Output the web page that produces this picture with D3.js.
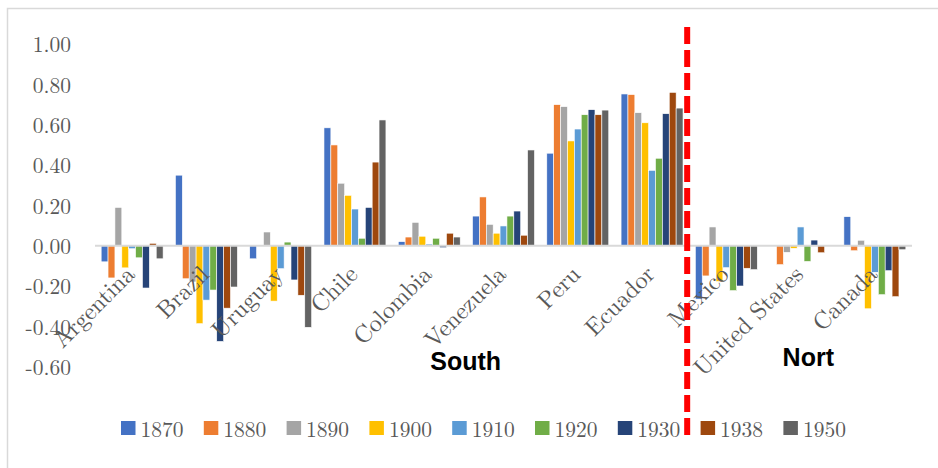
<!DOCTYPE html>
<html>
<head>
<meta charset="utf-8">
<script src="https://cdn.jsdelivr.net/npm/d3@7"></script>
<style>
  body { margin: 0; background: #fff; }
  svg { display: block; }
</style>
</head>
<body>
<div id="chart"></div>
<script>
// Data
const countries = ["Argentina", "Brazil", "Uruguay", "Chile", "Colombia", "Venezuela",
    "Peru", "Ecuador", "Mexico", "United States", "Canada"];
const years = ["1870", "1880", "1890", "1900", "1910", "1920", "1930", "1938", "1950"];
const colors = ["#4472C4", "#ED7D31", "#A5A5A5", "#FFC000", "#5B9BD5", "#70AD47", "#264478", "#9E480E", "#636363"];

const v1870 = [-0.08, 0.35, -0.065, 0.585, 0.02, 0.147, 0.459, 0.753, -0.265, 0, 0.144];
const v1880 = [-0.16, -0.164, 0, 0.50, 0.043, 0.242, 0.70, 0.75, -0.15, -0.094, -0.025];
const v1890 = [0.19, -0.18, 0.068, 0.31, 0.116, 0.106, 0.69, 0.66, 0.093, -0.033, 0.027];
const v1900 = [-0.11, -0.387, -0.275, 0.25, 0.047, 0.062, 0.52, 0.61, -0.178, -0.013, -0.313];
const v1910 = [-0.015, -0.27, -0.114, 0.182, 0.008, 0.098, 0.579, 0.374, -0.109, 0.093, -0.132];
const v1920 = [-0.06, -0.22, 0.018, 0.037, 0.037, 0.147, 0.65, 0.434, -0.223, -0.078, -0.243];
const v1930 = [-0.21, -0.475, -0.17, 0.19, -0.01, 0.172, 0.675, 0.655, -0.20, 0.028, -0.124];
const v1938 = [0.012, -0.31, -0.246, 0.415, 0.062, 0.052, 0.65, 0.761, -0.112, -0.035, -0.253];
const v1950 = [-0.065, -0.205, -0.405, 0.624, 0.043, 0.475, 0.673, 0.683, -0.119, 0, -0.02];
const seriesValues = [v1870, v1880, v1890, v1900, v1910, v1920, v1930, v1938, v1950];

const yTicks = [-0.6, -0.4, -0.2, 0, 0.2, 0.4, 0.6, 0.8, 1.0];
const regionLabels = ["South", "Nort"];
const regionAnchors = ["Colombia", "United States"];

// Layout
const W = 938, H = 468;
const plot = { left: 95, right: 912, top: 44.2, zero: 245.7 };
const serif = '"Latin Modern Roman", "Liberation Serif", serif';
const grey = "#595959";
const fmt = d3.format(".2f");

const svg = d3.select("#chart").append("svg")
    .attr("width", W)
    .attr("height", H);

// Chart frame (only top and left edges are visible)
svg.append("path")
    .attr("d", `M7.5,${H} V8.5 H${W}`)
    .attr("fill", "none")
    .attr("stroke", "#d9d9d9")
    .attr("stroke-width", 1.5);

const x0 = d3.scaleBand()
    .domain(countries)
    .range([plot.left, plot.right])
    .paddingInner(0.166)
    .paddingOuter(0.083);

const x1 = d3.scaleBand()
    .domain(years)
    .range([0, x0.bandwidth()]);

const y = d3.scaleLinear()
    .domain([0, 1])
    .range([plot.zero, plot.top]);

const color = d3.scaleOrdinal().domain(years).range(colors);

// Y axis labels (no axis line, no gridlines)
const yAxis = svg.append("g")
    .attr("transform", `translate(${plot.left},0)`)
    .call(d3.axisLeft(y).tickValues(yTicks).tickSize(0).tickPadding(24)
        .tickFormat(d => fmt(d).replace("\u2212", "-")));
yAxis.select(".domain").remove();
yAxis.selectAll("text")
    .attr("dy", "0.36em")
    .style("font-family", serif)
    .style("font-size", "21.5px")
    .attr("fill", grey);

// Bars
const barData = [];
countries.forEach((c, i) => {
    years.forEach((yr, j) => {
        barData.push({ country: c, year: yr, value: seriesValues[j][i] });
    });
});

svg.append("g")
    .selectAll("rect")
    .data(barData)
    .join("rect")
    .attr("x", d => x0(d.country) + x1(d.year))
    .attr("y", d => y(Math.max(0, d.value)))
    .attr("width", x1.bandwidth())
    .attr("height", d => Math.abs(y(d.value) - y(0)))
    .attr("fill", d => color(d.year))
    .attr("stroke", "#fff")
    .attr("stroke-width", 0.6);

// Zero line
svg.append("line")
    .attr("x1", plot.left)
    .attr("x2", plot.right)
    .attr("y1", y(0))
    .attr("y2", y(0))
    .attr("stroke", "#d9d9d9")
    .attr("stroke-width", 2);

// Category labels, rotated
svg.append("g")
    .selectAll("text")
    .data(countries)
    .join("text")
    .attr("transform", d => `translate(${x0(d) + x0.bandwidth() / 2 + 4},${y(0) + 30}) rotate(-45)`)
    .attr("text-anchor", "end")
    .style("font-family", serif)
    .style("font-size", "24px")
    .attr("fill", grey)
    .text(d => d);

// Red dashed divider between South and North
const divX = x0("Mexico") - x0.step() * x0.paddingInner() / 2 - 2;
svg.append("line")
    .attr("x1", divX)
    .attr("x2", divX)
    .attr("y1", 27)
    .attr("y2", 440)
    .attr("stroke", "#FF0000")
    .attr("stroke-width", 6)
    .attr("stroke-dasharray", "17,6");

// Region labels
const regionOffset = [32, 13];
const regionBase = [370, 366];
svg.append("g")
    .selectAll("text")
    .data(regionLabels)
    .join("text")
    .attr("x", (d, i) => x0(regionAnchors[i]) + regionOffset[i])
    .attr("y", (d, i) => regionBase[i])
    .style("font-family", '"Liberation Sans", Arial, sans-serif')
    .style("font-weight", "bold")
    .style("font-size", "25px")
    .attr("fill", "#000")
    .text(d => d);

// Legend
const legend = svg.append("g")
    .attr("transform", "translate(121,421)");

const item = legend.selectAll("g")
    .data(years)
    .join("g")
    .attr("transform", (d, i) => `translate(${i * 82.8},0)`);

item.append("rect")
    .attr("width", 14.5)
    .attr("height", 14)
    .attr("fill", d => color(d));

item.append("text")
    .attr("x", 19.5)
    .attr("y", 16.3)
    .style("font-family", serif)
    .style("font-size", "21.5px")
    .attr("fill", grey)
    .text(d => d);
</script>
</body>
</html>
